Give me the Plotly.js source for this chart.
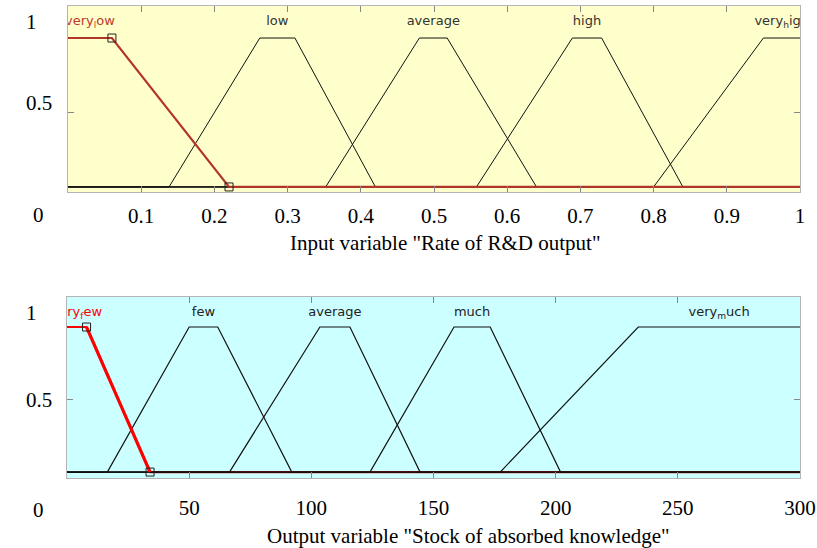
<!DOCTYPE html>
<html>
<head>
<meta charset="utf-8">
<script src="https://cdn.plot.ly/plotly-3.0.1.min.js"></script>
<style>html,body{margin:0;padding:0;background:#fff;}#chart{width:817px;height:548px;}</style>
</head>
<body>
<div id="chart"></div>
<script>
// ---- data ----
const inputNames = ['very<sub>l</sub>ow', 'low', 'average', 'high', 'very<sub>h</sub>igh'];
const inputParams = [
  [0, 0, 0.06, 0.22],
  [0.138, 0.262, 0.31, 0.42],
  [0.352, 0.48, 0.518, 0.64],
  [0.558, 0.689, 0.729, 0.84],
  [0.8, 0.95, 1, 1]
];
const inputRange = [0, 1];
const inputTicks = [0.1, 0.2, 0.3, 0.4, 0.5, 0.6, 0.7, 0.8, 0.9, 1];
const inputTickText = ['0.1', '0.2', '0.3', '0.4', '0.5', '0.6', '0.7', '0.8', '0.9', '1'];
const inputTitle = 'Input variable "Rate of R&D output"';

const outputNames = ['very<sub>f</sub>ew', 'few', 'average', 'much', 'very<sub>m</sub>uch'];
const outputParams = [
  [0, 0, 8, 34],
  [16.5, 50, 61.7, 92],
  [66.5, 103.5, 115.8, 144.5],
  [124, 158.4, 173.2, 202],
  [177.3, 233.8, 300, 300]
];
const outputRange = [0, 300];
const outputTicks = [50, 100, 150, 200, 250, 300];
const outputTickText = ['50', '100', '150', '200', '250', '300'];
const outputTitle = 'Output variable "Stock of absorbed knowledge"';

const yTickText = ['1', '0.5', '0'];
const activeIndex = 0; // highlighted (red) membership function

// ---- helpers ----
function trap(x, p) {
  const [a, b, c, d] = p;
  if (x < a || x > d) return 0;
  if (x >= b && x <= c) return 1;
  if (x < b) return (x - a) / (b - a);
  return (d - x) / (d - c);
}
function mfTrace(p, range, xa, ya, color, width) {
  const xs = [range[0], p[0], p[1], p[2], p[3], range[1]];
  const ys = xs.map(v => trap(v, p));
  return {x: xs, y: ys, xaxis: xa, yaxis: ya, type: 'scatter', mode: 'lines',
          line: {color: color, width: width}, hoverinfo: 'skip', showlegend: false};
}
function slopeTrace(p, xa, ya, color, width) {
  const xs = [p[2], p[3]];
  return {x: xs, y: xs.map(v => trap(v, p)), xaxis: xa, yaxis: ya, type: 'scatter', mode: 'lines',
          line: {color: color, width: width}, hoverinfo: 'skip', showlegend: false};
}

const traces = [];
const W = 817, H = 548;
// top subplot
inputParams.forEach((p, i) => { if (i !== activeIndex) traces.push(mfTrace(p, inputRange, 'x', 'y', '#111', 1)); });
traces.push(mfTrace(inputParams[activeIndex], inputRange, 'x', 'y', '#b2352a', 2.2));
traces.push({x: [inputParams[activeIndex][2], inputParams[activeIndex][3]], y: [1, 0], xaxis: 'x', yaxis: 'y',
  type: 'scatter', mode: 'markers', marker: {symbol: 'square-open', size: 8, color: '#222', line: {width: 1}},
  hoverinfo: 'skip', showlegend: false});
traces.push({x: inputParams.map(p => (p[1] + p[2]) / 2), y: inputParams.map(() => 1.107),
  text: inputNames, xaxis: 'x', yaxis: 'y', type: 'scatter', mode: 'text', cliponaxis: true,
  textfont: {family: 'DejaVu Sans', size: 13, color: inputNames.map((n, i) => i === activeIndex ? '#c0392b' : '#333')},
  hoverinfo: 'skip', showlegend: false});

// bottom subplot
traces.push(mfTrace(outputParams[activeIndex], outputRange, 'x2', 'y2', '#ff0000', 2.2));
outputParams.forEach((p, i) => { if (i !== activeIndex) traces.push(mfTrace(p, outputRange, 'x2', 'y2', '#111', 1.2)); });
traces.push(slopeTrace(outputParams[activeIndex], 'x2', 'y2', '#ff0000', 3.2));
traces.push({x: [outputParams[activeIndex][2], outputParams[activeIndex][3]], y: [1, 0], xaxis: 'x2', yaxis: 'y2',
  type: 'scatter', mode: 'markers', marker: {symbol: 'square-open', size: 8, color: '#222', line: {width: 1}},
  hoverinfo: 'skip', showlegend: false});
traces.push({x: outputParams.map(p => (p[1] + p[2]) / 2), y: outputParams.map(() => 1.097),
  text: outputNames, xaxis: 'x2', yaxis: 'y2', type: 'scatter', mode: 'text', cliponaxis: true,
  textfont: {family: 'DejaVu Sans', size: 13, color: outputNames.map((n, i) => i === activeIndex ? '#ff0000' : '#222')},
  hoverinfo: 'skip', showlegend: false});

const serif = {family: 'Liberation Serif, Times New Roman, serif', size: 21, color: '#000'};
const axCommon = {showgrid: false, zeroline: false, showline: true, mirror: 'ticks', linecolor: '#b4b4b4',
  linewidth: 1, ticks: 'inside', ticklen: 6, tickcolor: '#888', tickfont: serif, fixedrange: true};

function ann(text, xpx, ypx, xanchor) {
  return {text: text, xref: 'paper', yref: 'paper', x: xpx / W, y: 1 - ypx / H,
          xanchor: xanchor, yanchor: 'middle', showarrow: false, font: serif};
}

const layout = {
  width: W, height: H, margin: {l: 0, r: 0, t: 0, b: 0}, paper_bgcolor: '#fff',
  showlegend: false,
  xaxis: Object.assign({}, axCommon, {domain: [68 / W, 800 / W], range: inputRange, tickmode: 'array',
    tickvals: inputTicks, ticktext: inputTickText, anchor: 'y', ticklabelstandoff: 5}),
  yaxis: Object.assign({}, axCommon, {domain: [1 - 192 / H, 1 - 6 / H], range: [-0.034, 1.215],
    tickmode: 'array', tickvals: [0.5], showticklabels: false, anchor: 'x'}),
  xaxis2: Object.assign({}, axCommon, {domain: [67 / W, 800 / W], range: outputRange, tickmode: 'array',
    tickvals: outputTicks, ticktext: outputTickText, anchor: 'y2', ticklabelstandoff: 11}),
  yaxis2: Object.assign({}, axCommon, {domain: [1 - 478 / H, 1 - 297 / H], range: [-0.041, 1.207],
    tickmode: 'array', tickvals: [0.5], showticklabels: false, anchor: 'x2'}),
  plot_bgcolor: '#ffffcc',
  shapes: [
    {type: 'rect', xref: 'x2 domain', yref: 'y2 domain', x0: 0, x1: 1, y0: 0, y1: 1,
     fillcolor: '#ccffff', line: {width: 0}, layer: 'below'}
  ],
  annotations: [
    ann(inputTitle, 445, 243, 'center'),
    ann(outputTitle, 468, 536, 'center'),
    ann(yTickText[0], 24, 22, 'left'),
    ann(yTickText[1], 24, 103, 'left'),
    ann(yTickText[2], 38, 215, 'center'),
    ann(yTickText[0], 24, 313, 'left'),
    ann(yTickText[1], 24, 400, 'left'),
    ann(yTickText[2], 38, 510, 'center')
  ]
};

Plotly.newPlot('chart', traces, layout, {displayModeBar: false, staticPlot: true});
</script>
</body>
</html>
